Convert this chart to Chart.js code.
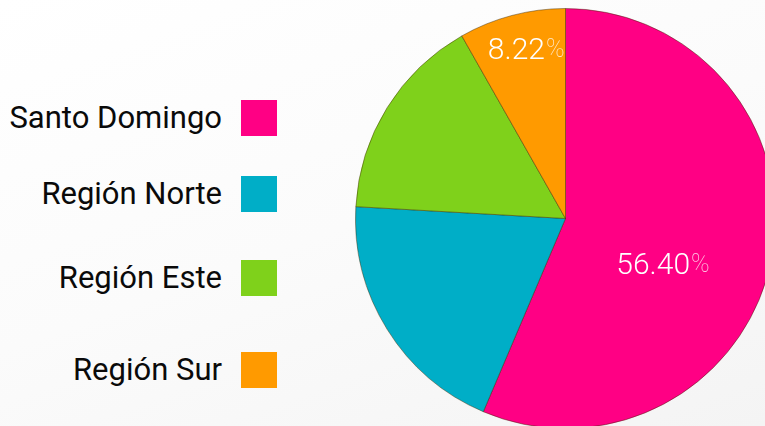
<!DOCTYPE html>
<html><head><meta charset="utf-8">
<script src="https://cdn.jsdelivr.net/npm/chart.js@4/dist/chart.umd.min.js"></script>
<style>
html,body{margin:0;padding:0;width:765px;height:426px;overflow:hidden;}
body{background:linear-gradient(160deg,#ffffff 0%,#fbfbfb 50%,#f4f4f4 100%);position:relative;font-family:Roboto,"Open Sans",sans-serif;}
#wrap{position:absolute;left:355px;top:8px;width:421px;height:421px;}
#legend{position:absolute;left:0;top:0;width:280px;height:426px;}
.item{position:absolute;right:3px;display:flex;align-items:center;}
.item span{font-size:31px;color:#0a0a0a;margin-right:19px;white-space:nowrap;}
.item i{display:block;width:36px;height:36px;}
</style></head>
<body>
<div id="legend"></div>
<div id="wrap"><canvas id="c"></canvas></div>
<script>
const categories = ["Santo Domingo", "Región Norte", "Región Este", "Región Sur"];
const shares = [56.40, 19.50, 15.88, 8.22];
const colors = ["#ff0084", "#00aec7", "#7fd11b", "#ff9a00"];
const showLabel = [true, false, false, true];
// style: label placement (radius fraction, angle shift in degrees)
const labelFrac = [0.513, 0, 0, 0.82];
const labelShift = [14.7, 0, 0, 1.3];
const legendTops = [99, 175, 259, 351];

const lg = document.getElementById('legend');
categories.forEach((c, i) => {
  const d = document.createElement('div');
  d.className = 'item';
  d.style.top = legendTops[i] + 'px';
  d.innerHTML = '<span>' + c + '</span><i style="background:' + colors[i] + '"></i>';
  lg.appendChild(d);
});

const labelPlugin = {
  id: 'pctLabels',
  afterDatasetsDraw(chart) {
    const ctx = chart.ctx;
    const meta = chart.getDatasetMeta(0);
    meta.data.forEach((arc, i) => {
      if (!showLabel[i]) return;
      const p = arc.getProps(['x','y','startAngle','endAngle','outerRadius'], true);
      const mid = (p.startAngle + p.endAngle) / 2 + labelShift[i] * Math.PI / 180;
      const r = p.outerRadius * labelFrac[i];
      const x = p.x + Math.cos(mid) * r;
      const y = p.y + Math.sin(mid) * r;
      const num = shares[i].toFixed(2);
      ctx.save();
      ctx.textBaseline = 'middle';
      ctx.font = '300 30px Roboto';
      const w1 = ctx.measureText(num).width;
      ctx.font = '100 24px Roboto';
      const w2 = ctx.measureText('%').width;
      const x0 = x - (w1 + w2) / 2;
      ctx.fillStyle = '#ffffff';
      ctx.font = '300 30px Roboto';
      ctx.textAlign = 'left';
      ctx.fillText(num, x0, y);
      ctx.globalAlpha = 0.8;
      ctx.font = '100 25px Roboto';
      ctx.fillText('%', x0 + w1 + 1, y);
      ctx.restore();
    });
  }
};

new Chart(document.getElementById('c'), {
  type: 'pie',
  data: {
    labels: categories,
    datasets: [{
      data: shares,
      backgroundColor: colors,
      borderColor: 'rgba(60,40,0,0.45)',
      borderWidth: 1
    }]
  },
  options: {
    responsive: true,
    maintainAspectRatio: false,
    animation: false,
    layout: { padding: 0 },
    plugins: { legend: { display: false }, tooltip: { enabled: false } }
  },
  plugins: [labelPlugin]
});
</script>
</body></html>
